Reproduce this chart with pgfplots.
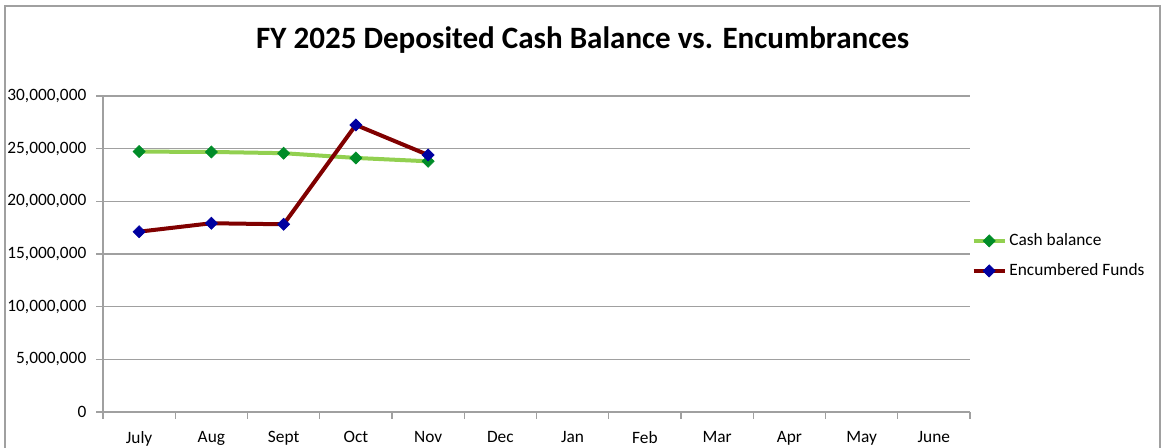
\documentclass[border=0pt]{standalone}
\usepackage{pgfplots}
\pgfplotsset{compat=1.18}
\usepackage{fontspec}
\setmainfont{Carlito}
\definecolor{cashline}{RGB}{146,208,80}
\definecolor{cashmark}{RGB}{0,140,40}
\definecolor{encline}{RGB}{128,0,0}
\definecolor{encmark}{RGB}{0,0,160}
\definecolor{gridc}{RGB}{160,160,160}
\begin{document}
\begin{tikzpicture}
\useasboundingbox (0pt,0pt) rectangle (873pt,335.25pt);
\draw[gridc, line width=1pt] (3.75pt,-2pt) -- (3.75pt,330.75pt) -- (870pt,330.75pt) -- (870pt,-2pt);
\node[font=\fontsize{23.3}{27}\selectfont\bfseries] at (437pt,305pt) {FY 2025 Deposited Cash Balance vs. Encumbrances};
\begin{axis}[
  at={(77.25pt,26.25pt)}, anchor=south west,
  scale only axis, width=650.25pt, height=237pt,
  xmin=-0.5, xmax=11.5, ymin=0, ymax=30000000,
  axis lines*=left,
  axis line style={gridc, line width=1pt},
  ytick={0,5000000,10000000,15000000,20000000,25000000,30000000},
  ymajorgrids, major grid style={gridc, line width=1pt},
  tick style={gridc, line width=1pt},
  tick align=outside,
  major tick length=5pt,
  xtick={-0.5,0.5,1.5,2.5,3.5,4.5,5.5,6.5,7.5,8.5,9.5,10.5,11.5},
  xticklabels={},
  extra x ticks={0,1,2,3,4,5,6,7,8,9,10,11},
  extra x tick labels={July,Aug,Sept,Oct,Nov,Dec,Jan,Feb,Mar,Apr,May,June},
  extra x tick style={major tick length=0pt, tick style={draw=none}},
  ticklabel style={font=\fontsize{13}{15}\selectfont, text=black},
  yticklabel style={xshift=-4pt},
  xticklabel style={yshift=-11pt},
  scaled y ticks=false,
  /pgf/number format/.cd, fixed, precision=0, 1000 sep={,}, assume math mode=true,
  /pgfplots/.cd,
  legend style={at={(1.0,0.494)}, anchor=west, draw=none, fill=none,
    font=\fontsize{13}{15}\selectfont, row sep=8pt, inner xsep=1pt},
  legend cell align=left,
  legend image code/.code={\draw[mark repeat=2,mark phase=2,#1] plot coordinates {(0cm,0cm) (0.41cm,0cm) (0.82cm,0cm)};},
]
\addplot[cashline, line width=3pt, mark=square*, mark size=3.2pt,
  mark options={rotate=45, fill=cashmark, draw=cashmark, line width=0.5pt, solid}]
  coordinates {(0,24720000) (1,24690000) (2,24570000) (3,24120000) (4,23800000)};
\addlegendentry{Cash balance}
\addplot[encline, line width=3pt, mark=square*, mark size=3.2pt,
  mark options={rotate=45, fill=encmark, draw=encmark, line width=0.5pt, solid}]
  coordinates {(0,17120000) (1,17920000) (2,17820000) (3,27250000) (4,24400000)};
\addlegendentry{Encumbered Funds}
\end{axis}
\end{tikzpicture}
\end{document}
